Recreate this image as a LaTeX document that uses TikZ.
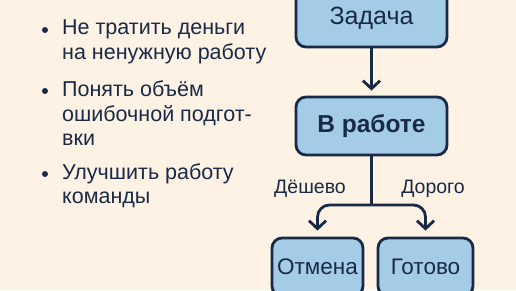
\documentclass[tikz,border=0pt]{standalone}
\usepackage{fontspec}
\setmainfont{Liberation Sans}
\usetikzlibrary{arrows.meta}

\definecolor{cream}{RGB}{253,242,227}
\definecolor{boxblue}{RGB}{164,204,230}
\definecolor{navy}{RGB}{25,42,70}

\begin{document}
\begin{tikzpicture}[
    x=1pt, y=1pt,
    state/.style={draw=navy, fill=boxblue, line width=2.8pt, rounded corners=10pt,
        minimum height=58pt, text=navy, font=\fontsize{25}{29}\selectfont},
    flow/.style={draw=navy, line width=2.8pt,
        -{Straight Barb[length=8pt, width=17pt, line width=2.8pt]}},
    dot/.style={circle, fill=navy, inner sep=0pt, minimum size=6pt},
    line/.style={anchor=base west, inner sep=0pt, text=navy, font=\fontsize{21.5}{25}\selectfont},
    choice/.style={anchor=base, inner sep=0pt, text=navy, font=\fontsize{19.5}{23}\selectfont}
]
\useasboundingbox (0,0) rectangle (516,290);
\fill[cream] (0,0) rectangle (516,290);

% Left column: goals
\node[dot] (d1) at (45,260) {};
\node[line] (l1) at (62,255) {Не тратить деньги};
\node[line] (l2) at (62,231) {на ненужную работу};

\node[dot] (d2) at (45,199) {};
\node[line] (l3) at (62,194) {Понять объём};
\node[line] (l4) at (62,169) {ошибочной подгот-};
\node[line] (l5) at (62,145) {вки};

\node[dot] (d3) at (45,116) {};
\node[line] (l6) at (62,111) {Улучшить работу};
\node[line] (l7) at (62,87) {команды};

% Right column: flow of a task
\node[state, minimum width=151pt] (task) at (371.5,272) {Задача};
\node[state, minimum width=151pt, font=\fontsize{24.5}{28}\selectfont\bfseries] (work) at (371.5,164) {В работе};
\node[state, minimum width=91pt, font=\fontsize{22.5}{26}\selectfont] (cancel) at (317.5,23) {Отмена};
\node[state, minimum width=95pt, font=\fontsize{22.5}{26}\selectfont] (done) at (425.5,23) {Готово};

\coordinate (fork) at (371.5,85);

\draw[flow, shorten >=5pt] (task) -- (work);
\draw[navy, line width=2.8pt] (work) -- (fork);
\draw[flow, rounded corners=12pt, shorten >=6pt] (fork) -| (cancel);
\draw[flow, rounded corners=12pt, shorten >=6pt] (fork) -| (done);

\node[choice] (cheap) at (310,97) {Дёшево};
\node[choice] (dear) at (433,97) {Дорого};

\end{tikzpicture}
\end{document}
